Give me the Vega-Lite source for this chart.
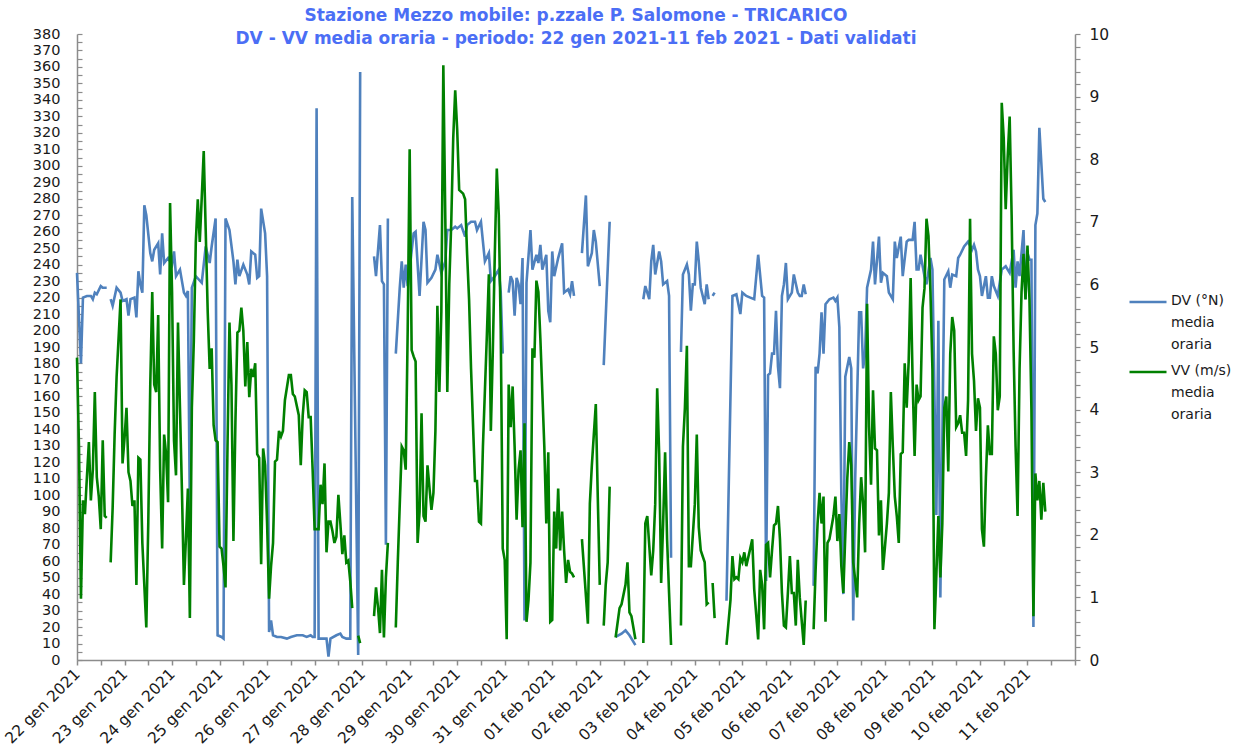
{
  "$schema": "https://vega.github.io/schema/vega-lite/v6.json",
  "autosize": "none",
  "width": 998,
  "height": 626,
  "padding": {"left": 77, "top": 34, "right": 164, "bottom": 87},
  "background": "white",
  "config": {"view": {"stroke": null}, "font": "DejaVu Sans"},
  "title": {
    "text": ["Stazione Mezzo mobile: p.zzale P. Salomone - TRICARICO", "DV - VV  media oraria - periodo: 22 gen 2021-11 feb 2021 - Dati validati"],
    "anchor": "middle",
    "font": "DejaVu Sans",
    "fontSize": 17,
    "fontWeight": "bold",
    "color": "#4B6EF5",
    "lineHeight": 23,
    "offset": -22
  },
  "datasets": {
    "dv": [
      {"h":0,"dv":235},{"h":2,"dv":180},{"h":3,"dv":220},{"h":5,"dv":221},{"h":7,"dv":221},{"h":8,"dv":219},{"h":9,"dv":223},{"h":10,"dv":222},{"h":12,"dv":227},{"h":13,"dv":226},{"h":15,"dv":226},{"h":16,"dv":null},
      {"h":17,"dv":219},{"h":18,"dv":215},{"h":20,"dv":226},{"h":22,"dv":223},{"h":23,"dv":218},{"h":25,"dv":219},{"h":26,"dv":209},{"h":27,"dv":219},{"h":29,"dv":220},{"h":30,"dv":208},{"h":31,"dv":236},{"h":32,"dv":228},{"h":33,"dv":223},{"h":34,"dv":276},{"h":35,"dv":270},{"h":37,"dv":247},{"h":38,"dv":242},{"h":39,"dv":249},{"h":41,"dv":253},{"h":42,"dv":234},{"h":43,"dv":259},{"h":44,"dv":241},{"h":46,"dv":244},{"h":48,"dv":240},{"h":49,"dv":248},{"h":50,"dv":233},{"h":52,"dv":237},{"h":54,"dv":223},{"h":55,"dv":221},{"h":56,"dv":224},{"h":57,"dv":88},{"h":58,"dv":226},{"h":60,"dv":233},{"h":63,"dv":229},{"h":65,"dv":251},{"h":67,"dv":241},{"h":68,"dv":251},{"h":70,"dv":268},{"h":71,"dv":15},{"h":73,"dv":14},{"h":74,"dv":13},{"h":75,"dv":268},{"h":77,"dv":261},{"h":79,"dv":242},{"h":80,"dv":228},{"h":81,"dv":243},{"h":82,"dv":233},{"h":84,"dv":240},{"h":86,"dv":234},{"h":87,"dv":228},{"h":88,"dv":248},{"h":90,"dv":246},{"h":91,"dv":232},{"h":92,"dv":233},{"h":93,"dv":274},{"h":95,"dv":259},{"h":96,"dv":233},{"h":97,"dv":17},{"h":98,"dv":24},{"h":99,"dv":15},{"h":101,"dv":14},{"h":103,"dv":14},{"h":106,"dv":13},{"h":108,"dv":14},{"h":111,"dv":15},{"h":113,"dv":15},{"h":114,"dv":15},{"h":116,"dv":14},{"h":118,"dv":15},{"h":119,"dv":14},{"h":120,"dv":14},{"h":121,"dv":335},{"h":122,"dv":13},{"h":124,"dv":13},{"h":126,"dv":13},{"h":127,"dv":2},{"h":128,"dv":13},{"h":131,"dv":15},{"h":133,"dv":16},{"h":134,"dv":14},{"h":136,"dv":13},{"h":138,"dv":13},{"h":139,"dv":281},{"h":142,"dv":3},{"h":143,"dv":357},{"h":144,"dv":null},
      {"h":150,"dv":245},{"h":151,"dv":233},{"h":153,"dv":264},{"h":154,"dv":230},{"h":155,"dv":228},{"h":156,"dv":70},{"h":157,"dv":268},{"h":158,"dv":null},
      {"h":161,"dv":186},{"h":163,"dv":226},{"h":164,"dv":242},{"h":165,"dv":226},{"h":166,"dv":240},{"h":167,"dv":227},{"h":170,"dv":259},{"h":171,"dv":260},{"h":173,"dv":221},{"h":175,"dv":266},{"h":176,"dv":261},{"h":177,"dv":229},{"h":179,"dv":232},{"h":181,"dv":237},{"h":182,"dv":246},{"h":184,"dv":235},{"h":186,"dv":242},{"h":187,"dv":261},{"h":189,"dv":261},{"h":191,"dv":263},{"h":192,"dv":262},{"h":194,"dv":264},{"h":196,"dv":257},{"h":197,"dv":264},{"h":199,"dv":266},{"h":201,"dv":266},{"h":202,"dv":261},{"h":204,"dv":266},{"h":206,"dv":242},{"h":208,"dv":247},{"h":209,"dv":230},{"h":211,"dv":233},{"h":213,"dv":237},{"h":214,"dv":223},{"h":215,"dv":186},{"h":216,"dv":null},
      {"h":218,"dv":223},{"h":219,"dv":233},{"h":220,"dv":230},{"h":221,"dv":209},{"h":222,"dv":232},{"h":223,"dv":228},{"h":224,"dv":216},{"h":225,"dv":244},{"h":226,"dv":24},{"h":227,"dv":229},{"h":229,"dv":261},{"h":230,"dv":237},{"h":232,"dv":246},{"h":233,"dv":241},{"h":234,"dv":252},{"h":235,"dv":237},{"h":237,"dv":246},{"h":238,"dv":212},{"h":239,"dv":205},{"h":240,"dv":248},{"h":241,"dv":233},{"h":243,"dv":244},{"h":245,"dv":253},{"h":246,"dv":223},{"h":248,"dv":225},{"h":249,"dv":222},{"h":250,"dv":230},{"h":251,"dv":221},{"h":252,"dv":null},
      {"h":255,"dv":247},{"h":257,"dv":282},{"h":258,"dv":239},{"h":260,"dv":247},{"h":261,"dv":261},{"h":262,"dv":254},{"h":264,"dv":227},{"h":265,"dv":null},
      {"h":266,"dv":179},{"h":269,"dv":266},{"h":270,"dv":null},
      {"h":272,"dv":14},{"h":275,"dv":16},{"h":277,"dv":18},{"h":279,"dv":15},{"h":282,"dv":9},{"h":283,"dv":null},
      {"h":286,"dv":219},{"h":287,"dv":227},{"h":289,"dv":219},{"h":290,"dv":242},{"h":291,"dv":252},{"h":292,"dv":234},{"h":294,"dv":248},{"h":295,"dv":242},{"h":296,"dv":228},{"h":298,"dv":230},{"h":299,"dv":221},{"h":300,"dv":62},{"h":301,"dv":null},
      {"h":305,"dv":187},{"h":306,"dv":234},{"h":308,"dv":240},{"h":309,"dv":234},{"h":310,"dv":212},{"h":311,"dv":228},{"h":312,"dv":228},{"h":313,"dv":254},{"h":314,"dv":242},{"h":315,"dv":226},{"h":317,"dv":216},{"h":318,"dv":228},{"h":319,"dv":219},{"h":320,"dv":null},
      {"h":321,"dv":221},{"h":322,"dv":223},{"h":323,"dv":null},
      {"h":328,"dv":36},{"h":331,"dv":221},{"h":333,"dv":222},{"h":335,"dv":210},{"h":336,"dv":223},{"h":338,"dv":221},{"h":340,"dv":220},{"h":342,"dv":219},{"h":344,"dv":246},{"h":346,"dv":221},{"h":347,"dv":220},{"h":348,"dv":48},{"h":349,"dv":173},{"h":350,"dv":174},{"h":351,"dv":186},{"h":352,"dv":186},{"h":353,"dv":212},{"h":354,"dv":178},{"h":355,"dv":165},{"h":356,"dv":221},{"h":357,"dv":228},{"h":358,"dv":241},{"h":359,"dv":219},{"h":361,"dv":223},{"h":362,"dv":234},{"h":364,"dv":223},{"h":365,"dv":221},{"h":366,"dv":221},{"h":367,"dv":228},{"h":368,"dv":222},{"h":369,"dv":null},
      {"h":372,"dv":45},{"h":373,"dv":178},{"h":374,"dv":174},{"h":375,"dv":186},{"h":376,"dv":211},{"h":377,"dv":186},{"h":378,"dv":216},{"h":380,"dv":219},{"h":382,"dv":220},{"h":383,"dv":218},{"h":384,"dv":220},{"h":385,"dv":202},{"h":386,"dv":100},{"h":387,"dv":40},{"h":388,"dv":172},{"h":390,"dv":184},{"h":391,"dv":177},{"h":392,"dv":24},{"h":393,"dv":110},{"h":395,"dv":211},{"h":396,"dv":211},{"h":397,"dv":177},{"h":398,"dv":186},{"h":399,"dv":226},{"h":401,"dv":237},{"h":402,"dv":254},{"h":403,"dv":228},{"h":405,"dv":257},{"h":406,"dv":229},{"h":407,"dv":235},{"h":409,"dv":233},{"h":410,"dv":223},{"h":412,"dv":219},{"h":413,"dv":254},{"h":414,"dv":244},{"h":416,"dv":257},{"h":417,"dv":233},{"h":419,"dv":254},{"h":420,"dv":255},{"h":422,"dv":255},{"h":423,"dv":266},{"h":424,"dv":237},{"h":425,"dv":237},{"h":426,"dv":246},{"h":428,"dv":233},{"h":429,"dv":228},{"h":431,"dv":244},{"h":432,"dv":237},{"h":434,"dv":88},{"h":435,"dv":206},{"h":436,"dv":38},{"h":438,"dv":231},{"h":440,"dv":236},{"h":441,"dv":226},{"h":442,"dv":234},{"h":444,"dv":233},{"h":445,"dv":244},{"h":446,"dv":246},{"h":448,"dv":251},{"h":450,"dv":254},{"h":452,"dv":249},{"h":453,"dv":252},{"h":454,"dv":248},{"h":455,"dv":237},{"h":456,"dv":233},{"h":457,"dv":221},{"h":459,"dv":233},{"h":460,"dv":220},{"h":461,"dv":220},{"h":462,"dv":233},{"h":463,"dv":227},{"h":465,"dv":221},{"h":466,"dv":229},{"h":467,"dv":237},{"h":469,"dv":239},{"h":471,"dv":235},{"h":473,"dv":249},{"h":474,"dv":226},{"h":475,"dv":242},{"h":476,"dv":233},{"h":478,"dv":261},{"h":479,"dv":219},{"h":480,"dv":247},{"h":481,"dv":243},{"h":482,"dv":243},{"h":483,"dv":20},{"h":484,"dv":264},{"h":485,"dv":271},{"h":486,"dv":323},{"h":488,"dv":280},{"h":489,"dv":278}
    ],
    "vv": [
      {"h":0,"vv":4.83},{"h":1,"vv":3.41},{"h":2,"vv":0.98},{"h":3,"vv":2.55},{"h":4,"vv":2.33},{"h":5,"vv":2.92},{"h":6,"vv":3.48},{"h":7,"vv":2.55},{"h":8,"vv":3.04},{"h":9,"vv":4.28},{"h":10,"vv":2.92},{"h":11,"vv":2.61},{"h":12,"vv":2.09},{"h":13,"vv":3.51},{"h":14,"vv":2.3},{"h":15,"vv":2.27},{"h":16,"vv":null},
      {"h":17,"vv":1.56},{"h":18,"vv":2.43},{"h":19,"vv":3.6},{"h":20,"vv":4.52},{"h":22,"vv":5.76},{"h":23,"vv":3.14},{"h":24,"vv":3.54},{"h":25,"vv":4.03},{"h":26,"vv":3.0},{"h":27,"vv":2.86},{"h":28,"vv":2.46},{"h":29,"vv":2.55},{"h":30,"vv":1.2},{"h":31,"vv":3.23},{"h":32,"vv":3.2},{"h":33,"vv":1.87},{"h":35,"vv":0.52},{"h":36,"vv":2.2},{"h":37,"vv":4.4},{"h":38,"vv":5.88},{"h":39,"vv":4.4},{"h":40,"vv":4.28},{"h":41,"vv":5.51},{"h":42,"vv":3.04},{"h":43,"vv":1.78},{"h":44,"vv":3.6},{"h":45,"vv":3.29},{"h":46,"vv":2.52},{"h":47,"vv":7.3},{"h":48,"vv":5.88},{"h":49,"vv":3.5},{"h":50,"vv":2.95},{"h":51,"vv":5.39},{"h":52,"vv":4.03},{"h":53,"vv":2.7},{"h":54,"vv":1.2},{"h":55,"vv":1.93},{"h":56,"vv":2.74},{"h":57,"vv":0.67},{"h":58,"vv":4.03},{"h":59,"vv":5.1},{"h":60,"vv":6.68},{"h":61,"vv":7.36},{"h":62,"vv":6.68},{"h":63,"vv":7.39},{"h":64,"vv":8.13},{"h":65,"vv":6.86},{"h":66,"vv":5.57},{"h":67,"vv":4.65},{"h":68,"vv":4.98},{"h":69,"vv":3.75},{"h":70,"vv":3.51},{"h":71,"vv":3.48},{"h":72,"vv":1.81},{"h":73,"vv":1.78},{"h":74,"vv":1.5},{"h":75,"vv":1.16},{"h":76,"vv":3.4},{"h":77,"vv":5.39},{"h":78,"vv":4.4},{"h":79,"vv":1.9},{"h":80,"vv":3.8},{"h":81,"vv":5.23},{"h":82,"vv":5.26},{"h":83,"vv":5.63},{"h":84,"vv":5.26},{"h":85,"vv":4.37},{"h":86,"vv":5.08},{"h":87,"vv":4.2},{"h":88,"vv":4.65},{"h":89,"vv":4.52},{"h":90,"vv":4.74},{"h":91,"vv":3.29},{"h":92,"vv":3.23},{"h":93,"vv":1.53},{"h":94,"vv":3.38},{"h":95,"vv":3.11},{"h":96,"vv":2.18},{"h":97,"vv":0.98},{"h":98,"vv":1.5},{"h":99,"vv":1.87},{"h":100,"vv":3.17},{"h":101,"vv":3.2},{"h":102,"vv":3.66},{"h":103,"vv":3.57},{"h":104,"vv":3.66},{"h":105,"vv":4.15},{"h":107,"vv":4.55},{"h":108,"vv":4.55},{"h":109,"vv":4.25},{"h":110,"vv":4.21},{"h":112,"vv":3.91},{"h":113,"vv":3.11},{"h":114,"vv":3.91},{"h":115,"vv":4.31},{"h":116,"vv":4.28},{"h":117,"vv":3.88},{"h":118,"vv":3.88},{"h":119,"vv":3.04},{"h":120,"vv":2.09},{"h":122,"vv":2.09},{"h":123,"vv":2.8},{"h":124,"vv":2.49},{"h":125,"vv":3.14},{"h":126,"vv":1.72},{"h":127,"vv":2.21},{"h":128,"vv":2.21},{"h":129,"vv":2.06},{"h":130,"vv":1.87},{"h":131,"vv":1.97},{"h":132,"vv":2.64},{"h":133,"vv":2.18},{"h":134,"vv":1.69},{"h":135,"vv":1.99},{"h":136,"vv":1.56},{"h":137,"vv":1.59},{"h":138,"vv":1.26},{"h":139,"vv":0.83},{"h":140,"vv":null},
      {"h":142,"vv":0.39},{"h":143,"vv":0.27},{"h":144,"vv":null},
      {"h":150,"vv":0.7},{"h":151,"vv":1.16},{"h":152,"vv":0.85},{"h":153,"vv":0.43},{"h":154,"vv":1.44},{"h":155,"vv":0.36},{"h":156,"vv":1.32},{"h":157,"vv":1.87},{"h":158,"vv":null},
      {"h":161,"vv":0.52},{"h":162,"vv":1.56},{"h":163,"vv":2.49},{"h":164,"vv":3.41},{"h":165,"vv":3.35},{"h":166,"vv":3.04},{"h":167,"vv":5.26},{"h":168,"vv":8.16},{"h":169,"vv":4.95},{"h":170,"vv":4.85},{"h":171,"vv":4.77},{"h":172,"vv":1.87},{"h":173,"vv":2.37},{"h":174,"vv":3.94},{"h":175,"vv":2.3},{"h":176,"vv":2.21},{"h":177,"vv":3.11},{"h":179,"vv":2.4},{"h":180,"vv":2.67},{"h":181,"vv":3.66},{"h":182,"vv":5.66},{"h":183,"vv":4.28},{"h":184,"vv":5.57},{"h":185,"vv":9.5},{"h":186,"vv":7.05},{"h":187,"vv":4.28},{"h":188,"vv":6.0},{"h":189,"vv":6.99},{"h":190,"vv":8.34},{"h":191,"vv":9.1},{"h":192,"vv":8.47},{"h":193,"vv":7.51},{"h":195,"vv":7.45},{"h":196,"vv":7.36},{"h":197,"vv":6.49},{"h":198,"vv":5.76},{"h":199,"vv":4.65},{"h":201,"vv":2.86},{"h":202,"vv":2.86},{"h":203,"vv":2.21},{"h":204,"vv":2.18},{"h":205,"vv":3.41},{"h":207,"vv":5.2},{"h":208,"vv":6.16},{"h":209,"vv":3.66},{"h":210,"vv":4.95},{"h":211,"vv":6.49},{"h":212,"vv":7.85},{"h":213,"vv":7.11},{"h":214,"vv":5.26},{"h":215,"vv":1.78},{"h":216,"vv":1.6},{"h":217,"vv":0.33},{"h":218,"vv":4.4},{"h":219,"vv":3.72},{"h":220,"vv":4.37},{"h":221,"vv":3.41},{"h":222,"vv":2.24},{"h":223,"vv":3.04},{"h":224,"vv":3.35},{"h":225,"vv":2.12},{"h":226,"vv":3.78},{"h":227,"vv":0.61},{"h":228,"vv":0.95},{"h":229,"vv":1.56},{"h":230,"vv":4.98},{"h":231,"vv":4.83},{"h":232,"vv":6.06},{"h":233,"vv":5.88},{"h":234,"vv":5.14},{"h":236,"vv":3.41},{"h":237,"vv":2.18},{"h":238,"vv":3.32},{"h":239,"vv":0.61},{"h":240,"vv":0.64},{"h":241,"vv":2.37},{"h":242,"vv":1.78},{"h":243,"vv":2.74},{"h":244,"vv":1.75},{"h":245,"vv":2.37},{"h":246,"vv":1.75},{"h":247,"vv":1.23},{"h":248,"vv":1.6},{"h":249,"vv":1.41},{"h":250,"vv":1.38},{"h":251,"vv":1.32},{"h":252,"vv":null},
      {"h":255,"vv":1.93},{"h":258,"vv":0.58},{"h":259,"vv":2.5},{"h":260,"vv":3.11},{"h":261,"vv":3.6},{"h":262,"vv":4.09},{"h":263,"vv":2.6},{"h":264,"vv":1.2},{"h":265,"vv":null},
      {"h":266,"vv":0.55},{"h":267,"vv":1.2},{"h":268,"vv":1.56},{"h":269,"vv":2.77},{"h":270,"vv":null},
      {"h":272,"vv":0.36},{"h":274,"vv":0.83},{"h":275,"vv":0.89},{"h":277,"vv":1.2},{"h":278,"vv":1.56},{"h":279,"vv":0.76},{"h":280,"vv":0.7},{"h":282,"vv":0.33},{"h":283,"vv":null},
      {"h":286,"vv":0.27},{"h":287,"vv":2.18},{"h":288,"vv":2.3},{"h":290,"vv":1.35},{"h":291,"vv":1.75},{"h":292,"vv":2.49},{"h":293,"vv":4.34},{"h":294,"vv":3.29},{"h":295,"vv":1.23},{"h":296,"vv":2.18},{"h":297,"vv":3.32},{"h":298,"vv":1.93},{"h":299,"vv":1.07},{"h":300,"vv":0.24},{"h":301,"vv":null},
      {"h":305,"vv":0.55},{"h":306,"vv":3.41},{"h":307,"vv":4.03},{"h":308,"vv":5.02},{"h":309,"vv":1.5},{"h":310,"vv":1.5},{"h":312,"vv":2.49},{"h":313,"vv":3.6},{"h":314,"vv":2.12},{"h":315,"vv":1.75},{"h":317,"vv":1.56},{"h":318,"vv":0.89},{"h":319,"vv":0.92},{"h":320,"vv":null},
      {"h":321,"vv":1.23},{"h":322,"vv":0.67},{"h":323,"vv":null},
      {"h":328,"vv":0.24},{"h":330,"vv":0.95},{"h":331,"vv":1.66},{"h":332,"vv":1.29},{"h":333,"vv":1.32},{"h":334,"vv":1.29},{"h":335,"vv":1.63},{"h":336,"vv":1.56},{"h":337,"vv":1.72},{"h":338,"vv":1.5},{"h":340,"vv":1.78},{"h":341,"vv":1.93},{"h":342,"vv":1.13},{"h":344,"vv":0.33},{"h":345,"vv":1.44},{"h":346,"vv":1.2},{"h":347,"vv":0.49},{"h":348,"vv":1.84},{"h":349,"vv":1.87},{"h":350,"vv":1.32},{"h":351,"vv":1.75},{"h":352,"vv":2.15},{"h":353,"vv":2.18},{"h":354,"vv":2.46},{"h":355,"vv":1.93},{"h":356,"vv":1.07},{"h":357,"vv":0.55},{"h":358,"vv":0.52},{"h":359,"vv":1.07},{"h":360,"vv":1.66},{"h":361,"vv":1.07},{"h":362,"vv":1.07},{"h":363,"vv":0.55},{"h":364,"vv":1.6},{"h":365,"vv":1.0},{"h":367,"vv":0.24},{"h":368,"vv":0.95},{"h":369,"vv":null},
      {"h":372,"vv":0.49},{"h":373,"vv":1.44},{"h":374,"vv":2.18},{"h":375,"vv":2.67},{"h":376,"vv":2.18},{"h":377,"vv":2.61},{"h":378,"vv":0.61},{"h":379,"vv":1.87},{"h":380,"vv":1.93},{"h":382,"vv":2.3},{"h":383,"vv":2.61},{"h":384,"vv":1.9},{"h":385,"vv":2.33},{"h":386,"vv":1.5},{"h":387,"vv":1.07},{"h":388,"vv":2.0},{"h":389,"vv":2.9},{"h":390,"vv":3.48},{"h":391,"vv":3.11},{"h":392,"vv":1.56},{"h":394,"vv":1.0},{"h":395,"vv":2.18},{"h":396,"vv":2.92},{"h":397,"vv":2.49},{"h":398,"vv":1.72},{"h":399,"vv":5.69},{"h":400,"vv":3.72},{"h":401,"vv":2.8},{"h":402,"vv":4.31},{"h":403,"vv":3.38},{"h":404,"vv":3.35},{"h":405,"vv":1.99},{"h":406,"vv":2.55},{"h":407,"vv":1.44},{"h":408,"vv":1.8},{"h":409,"vv":2.18},{"h":410,"vv":2.67},{"h":411,"vv":4.28},{"h":412,"vv":3.41},{"h":413,"vv":2.61},{"h":414,"vv":2.3},{"h":415,"vv":1.87},{"h":416,"vv":3.29},{"h":417,"vv":3.32},{"h":418,"vv":4.74},{"h":419,"vv":4.03},{"h":420,"vv":4.77},{"h":421,"vv":6.1},{"h":422,"vv":4.46},{"h":423,"vv":3.26},{"h":424,"vv":4.4},{"h":425,"vv":4.15},{"h":426,"vv":4.21},{"h":427,"vv":5.63},{"h":428,"vv":5.94},{"h":429,"vv":7.05},{"h":430,"vv":6.77},{"h":431,"vv":5.88},{"h":432,"vv":4.65},{"h":433,"vv":0.49},{"h":434,"vv":1.38},{"h":435,"vv":2.3},{"h":436,"vv":1.32},{"h":437,"vv":2.18},{"h":438,"vv":4.03},{"h":439,"vv":4.21},{"h":440,"vv":3.01},{"h":441,"vv":4.89},{"h":442,"vv":5.48},{"h":443,"vv":5.26},{"h":444,"vv":3.72},{"h":445,"vv":3.78},{"h":446,"vv":3.91},{"h":447,"vv":3.63},{"h":448,"vv":3.63},{"h":449,"vv":3.26},{"h":450,"vv":4.15},{"h":451,"vv":7.05},{"h":452,"vv":4.89},{"h":453,"vv":4.46},{"h":454,"vv":3.66},{"h":455,"vv":4.18},{"h":456,"vv":4.03},{"h":457,"vv":2.09},{"h":458,"vv":1.81},{"h":459,"vv":2.92},{"h":460,"vv":3.75},{"h":461,"vv":3.29},{"h":462,"vv":3.29},{"h":463,"vv":5.17},{"h":464,"vv":4.89},{"h":465,"vv":3.99},{"h":466,"vv":4.21},{"h":467,"vv":8.9},{"h":468,"vv":8.34},{"h":469,"vv":7.2},{"h":470,"vv":8.04},{"h":471,"vv":8.68},{"h":472,"vv":7.11},{"h":473,"vv":4.95},{"h":474,"vv":3.41},{"h":475,"vv":2.3},{"h":476,"vv":4.65},{"h":477,"vv":5.88},{"h":478,"vv":6.49},{"h":479,"vv":5.76},{"h":480,"vv":6.62},{"h":481,"vv":5.76},{"h":482,"vv":4.0},{"h":483,"vv":0.7},{"h":484,"vv":2.98},{"h":485,"vv":2.55},{"h":486,"vv":2.86},{"h":487,"vv":2.24},{"h":488,"vv":2.83},{"h":489,"vv":2.37}
    ]
  },
  "encoding": {
    "x": {
      "field": "h",
      "type": "quantitative",
      "scale": {"domain": [0, 504], "nice": false, "zero": false},
      "axis": {
        "title": null,
        "values": [0,12,24,36,48,60,72,84,96,108,120,132,144,156,168,180,192,204,216,228,240,252,264,276,288,300,312,324,336,348,360,372,384,396,408,420,432,444,456,468,480,492,504],
        "labelExpr": "(datum.value % 24 != 0 || datum.value >= 504) ? '' : (datum.value < 240 ? (22 + datum.value / 24) + ' gen 2021' : ((datum.value / 24 - 9 < 10 ? '0' : '') + (datum.value / 24 - 9) + ' feb 2021'))",
        "labelAngle": -45,
        "labelAlign": "right",
        "labelBaseline": "middle",
        "labelPadding": 6,
        "labelFontSize": 15.5,
        "labelFont": "DejaVu Sans",
        "labelColor": "#1a1a1a",
        "labelOverlap": false,
        "labelBound": false,
        "labelFlush": false,
        "labelLimit": 300,
        "grid": false,
        "domainColor": "#8c8c8c",
        "domainWidth": 1.5,
        "tickColor": "#8c8c8c",
        "tickWidth": 1.5,
        "tickSize": 5
      }
    }
  },
  "layer": [
    {
      "data": {"name": "dv"},
      "mark": {"type": "line", "strokeWidth": 2.6, "invalid": "break-paths-show-domains"},
      "encoding": {
        "y": {
          "field": "dv",
          "type": "quantitative",
          "scale": {"domain": [0, 380], "nice": false, "zero": true},
          "axis": {
            "orient": "left",
            "title": null,
            "values": [0,5,10,15,20,25,30,35,40,45,50,55,60,65,70,75,80,85,90,95,100,105,110,115,120,125,130,135,140,145,150,155,160,165,170,175,180,185,190,195,200,205,210,215,220,225,230,235,240,245,250,255,260,265,270,275,280,285,290,295,300,305,310,315,320,325,330,335,340,345,350,355,360,365,370,375,380],
            "labelExpr": "datum.value % 10 == 0 ? datum.label : ''",
            "labelFontSize": 14.5,
            "labelFont": "DejaVu Sans",
            "labelColor": "#1a1a1a",
            "labelPadding": 22,
            "labelOverlap": false,
            "labelBound": false,
            "labelFlush": false,
            "grid": false,
            "domainColor": "#8c8c8c",
            "domainWidth": 1.5,
            "tickColor": "#8c8c8c",
            "tickWidth": 1.2,
            "tickSize": -5
          }
        },
        "color": {
          "datum": "DV",
          "type": "nominal",
          "scale": {"domain": ["DV", "VV"], "range": ["#4F81BD", "#008000"]},
          "legend": {
            "title": null,
            "orient": "none",
            "legendX": 1051,
            "legendY": 248,
            "padding": 0,
            "symbolType": "stroke",
            "symbolSize": 1369,
            "symbolStrokeWidth": 2.6,
            "labelFont": "DejaVu Sans",
            "labelFontSize": 14,
            "labelColor": "#1a1a1a",
            "labelOffset": 3,
            "labelLimit": 300,
            "labelBaseline": "top",
            "rowPadding": -8,
            "labelExpr": "datum.value == 'DV' ? ['DV (°N)', 'media', 'oraria'] : ['VV (m/s)', 'media', 'oraria']",
            "encode": {"labels": {"update": {"lineHeight": {"value": 22}, "dy": {"value": -8}}}}
          }
        }
      }
    },
    {
      "data": {"name": "vv"},
      "mark": {"type": "line", "strokeWidth": 2.6, "invalid": "break-paths-show-domains"},
      "encoding": {
        "y": {
          "field": "vv",
          "type": "quantitative",
          "scale": {"domain": [0, 10], "nice": false, "zero": true},
          "axis": {
            "orient": "right",
            "title": null,
            "values": [0,0.2,0.4,0.6,0.8,1,1.2,1.4,1.6,1.8,2,2.2,2.4,2.6,2.8,3,3.2,3.4,3.6,3.8,4,4.2,4.4,4.6,4.8,5,5.2,5.4,5.6,5.8,6,6.2,6.4,6.6,6.8,7,7.2,7.4,7.6,7.8,8,8.2,8.4,8.6,8.8,9,9.2,9.4,9.6,9.8,10],
            "labelExpr": "abs(datum.value - round(datum.value)) < 0.001 ? format(datum.value, 'd') : ''",
            "labelFontSize": 15.5,
            "labelFont": "DejaVu Sans",
            "labelColor": "#1a1a1a",
            "labelPadding": 9,
            "labelOverlap": false,
            "labelBound": false,
            "labelFlush": false,
            "grid": false,
            "domainColor": "#8c8c8c",
            "domainWidth": 1.5,
            "tickColor": "#8c8c8c",
            "tickWidth": 1.2,
            "tickSize": 5
          }
        },
        "color": {"datum": "VV", "type": "nominal"}
      }
    }
  ],
  "resolve": {"scale": {"y": "independent"}}
}
